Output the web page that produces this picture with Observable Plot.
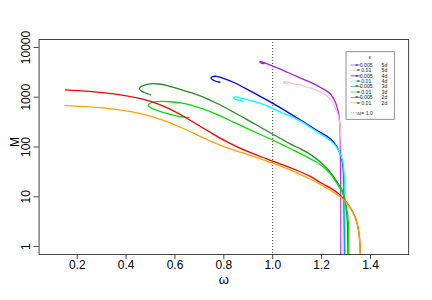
<!DOCTYPE html>
<html><head><meta charset="utf-8">
<script src="https://cdn.jsdelivr.net/npm/d3@7"></script>
<script src="https://cdn.jsdelivr.net/npm/@observablehq/plot@0.6"></script>
<style>body{margin:0;background:#fff}svg{display:block}</style>
</head><body><div id="chart"></div>
<script>
// [omega, M] pairs
const c005_5d = [[1.279,0.5],[1.279,8.35],[1.277,62],[1.275,270],[1.267,540],[1.255,820],[1.236,1160],[1.196,1570],[1.168,1860],[1.114,2430],[1.059,3180],[1.032,3660],[0.991,4400],[0.962,4990],[0.950,5180],[0.947,5110],[0.952,4900],[0.964,4720]];
const c01_5d = [[1.283,0.5],[1.282,8.35],[1.281,62],[1.277,214],[1.271,373],[1.261,540],[1.245,800],[1.220,1080],[1.196,1270],[1.155,1530],[1.127,1700],[1.093,1840],[1.065,1980],[1.048,2050],[1.045,1990],[1.050,1910],[1.060,1870]];
const c005_4d = [[1.294,0.5],[1.292,8.35],[1.291,21.1],[1.284,53.2],[1.264,98.6],[1.236,146],[1.182,214],[1.114,348],[1.004,737],[0.909,1330],[0.841,1980],[0.795,2430],[0.770,2630],[0.754,2590],[0.747,2430],[0.756,2220],[0.770,2070],[0.784,2000]];
const c01_4d = [[1.296,0.5],[1.295,8.35],[1.293,21.1],[1.287,48.6],[1.267,90.7],[1.236,134.5],[1.182,200],[1.114,332],[1.032,504],[0.964,713],[0.909,859],[0.868,964],[0.848,1019],[0.840,986],[0.844,920],[0.860,870],[0.878,827]];
const c005_3d = [[1.308,0.5],[1.307,1.31],[1.305,3.30],[1.298,7.26],[1.284,13.3],[1.264,19.5],[1.236,31.0],[1.196,49.2],[1.155,70.4],[1.114,91.6],[1.073,114],[1.032,148],[0.977,210],[0.909,324],[0.841,499],[0.773,747],[0.705,1057],[0.643,1332],[0.568,1720],[0.533,1843],[0.500,1861],[0.475,1760],[0.459,1604],[0.455,1462],[0.463,1332],[0.479,1215],[0.500,1118]];
const c01_3d = [[1.311,0.5],[1.310,2.84],[1.302,6.12],[1.288,11.4],[1.264,18.1],[1.236,28.8],[1.196,44.2],[1.155,57.6],[1.114,73.7],[1.073,92.3],[1.032,116],[0.977,155],[0.909,219],[0.841,313],[0.773,447],[0.705,601],[0.636,752],[0.582,812],[0.541,822],[0.512,795],[0.496,747],[0.491,697],[0.496,635],[0.513,579],[0.541,516],[0.568,470],[0.602,428],[0.631,403],[0.657,387]];
const c005_2d = [[1.360,0.32],[1.359,0.63],[1.357,1.12],[1.352,2.0],[1.345,2.95],[1.335,4.17],[1.32,5.75],[1.30,7.94],[1.28,10.3],[1.25,13.6],[1.2,18.7],[1.15,26.2],[1.1,33.7],[1.05,42.3],[1.0,52.2],[0.95,64.4],[0.9,80.4],[0.85,103],[0.8,137],[0.75,190],[0.7,266],[0.65,374],[0.6,513],[0.55,668],[0.5,822],[0.45,955],[0.35,1167],[0.25,1315],[0.152,1409]];
const c01_2d = [[1.360,0.32],[1.359,0.63],[1.357,1.12],[1.352,2.0],[1.345,2.95],[1.335,4.07],[1.32,5.62],[1.30,7.76],[1.28,9.77],[1.25,12.2],[1.2,17.0],[1.15,23.0],[1.1,29.9],[1.05,37.9],[1.0,47.2],[0.95,57.7],[0.9,69.8],[0.85,83.9],[0.8,102],[0.75,128],[0.7,166],[0.65,217],[0.55,348],[0.45,480],[0.35,577],[0.25,643],[0.149,681]];

const epsLabels = ["0.005","0.01","0.005","0.01","0.005","0.01","0.005","0.01"];
const dimLabels = ["5d","5d","4d","4d","3d","3d","2d","2d"];
const colors = ["#A020F0","#FFC0CB","#0000FF","#00FFFF","#228B22","#00E000","#FF0000","#FFA500"];
const curves = [c005_5d, c01_5d, c005_4d, c01_4d, c005_3d, c01_3d, c005_2d, c01_2d];
const xTicks = [0.2, 0.4, 0.6, 0.8, 1.0, 1.2, 1.4];
const yTicks = [1, 10, 100, 1000, 10000];
const omegaRef = [1.0];

const font = "'Liberation Sans', Arial, Helvetica, sans-serif";

const lines = curves.map((pts, i) => Plot.line(pts, {
  x: d => d[0], y: d => d[1], stroke: colors[i], strokeWidth: 1.3,
  curve: "catmull-rom", clip: true
}));

const chart = Plot.plot({
  width: 432, height: 300,
  marginLeft: 38.6, marginRight: 23.9, marginTop: 39, marginBottom: 46,
  style: {fontFamily: font, fontSize: "12px", color: "#000", background: "#fff"},
  x: {domain: [0.044, 1.556]},
  y: {type: "log", domain: [Math.pow(10, -0.16), Math.pow(10, 4.16)]},
  marks: [
    Plot.ruleX(omegaRef, {stroke: "#333", strokeDasharray: "1,2"}),
    ...lines,
    Plot.frame({stroke: "#444"}),
    Plot.axisX({ticks: xTicks, tickSize: 5, tickPadding: 1, tickFormat: d3.format(".1f"), label: null, stroke: "#444", fontSize: 12}),
    Plot.axisY({ticks: yTicks, tickSize: 5, tickRotate: -90, tickPadding: 4, tickFormat: d => String(d), label: null, stroke: "#444", fontSize: 12}),
    Plot.text(["ω"], {text: d => d, frameAnchor: "bottom", dy: 29.5, lineAnchor: "bottom", fontSize: 13}),
    Plot.text(["M"], {text: d => d, frameAnchor: "left", dx: -20.5, rotate: -90, lineAnchor: "bottom", fontSize: 12})
  ]
});
document.getElementById("chart").appendChild(chart);

// legend
const svg = d3.select(chart);
const g = svg.append("g").attr("font-family", font).attr("font-size", 5.2).attr("fill", "#222");
g.append("rect").attr("x", 346).attr("y", 51.7).attr("width", 48.3).attr("height", 67.6)
  .attr("fill", "#fff").attr("stroke", "#777").attr("stroke-width", 0.8);
g.append("text").attr("x", 370).attr("y", 58.5).attr("text-anchor", "middle").text("ε");
epsLabels.forEach((e, i) => {
  const y = 65 + i * 5.4;
  g.append("line").attr("x1", 350.7).attr("x2", 360.7).attr("y1", y).attr("y2", y)
    .attr("stroke", colors[i]).attr("stroke-opacity", 0.6).attr("stroke-width", 1);
  g.append("text").attr("x", 364).attr("y", y + 1.8).text("= " + e);
  g.append("text").attr("x", 384.5).attr("y", y + 1.8).text(dimLabels[i]);
});
{
  const y = 112.8;
  g.append("line").attr("x1", 350.7).attr("x2", 360.7).attr("y1", y).attr("y2", y)
    .attr("stroke", "#888").attr("stroke-dasharray", "1,1.5").attr("stroke-width", 0.8);
  g.append("text").attr("x", 365).attr("y", y + 1.8).text("ω= 1.0");
}
</script>
</body></html>
